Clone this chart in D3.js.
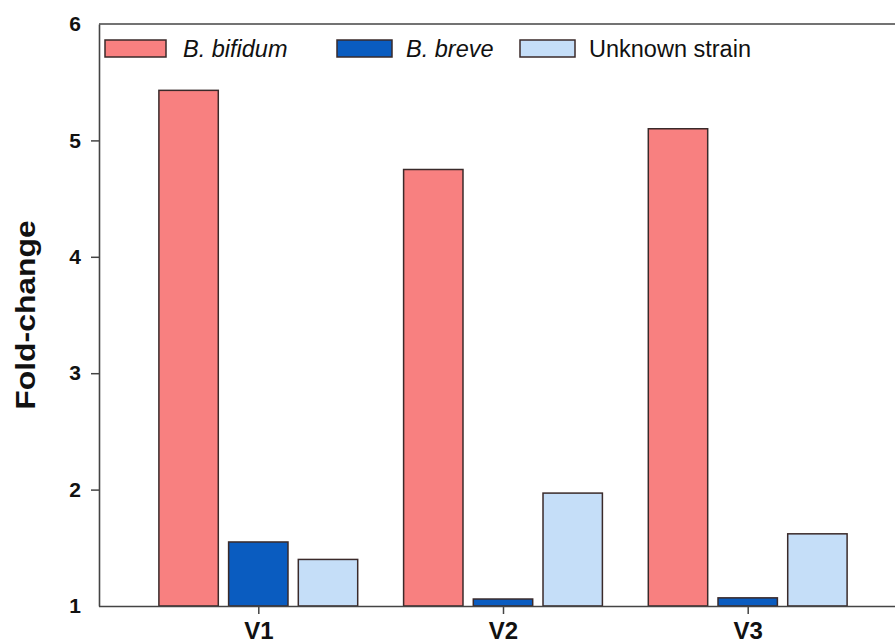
<!DOCTYPE html>
<html>
<head>
<meta charset="utf-8">
<script src="https://cdn.jsdelivr.net/npm/d3@7"></script>
<style>
html,body{margin:0;padding:0;background:#fff;}
svg{display:block;font-family:Arial,"Liberation Sans",sans-serif;}
</style>
</head>
<body>
<svg id="chart" width="895" height="643"></svg>
<script>
const categories = ["V1", "V2", "V3"];
const seriesNames = ["B. bifidum", "B. breve", "Unknown strain"];
const bifidum = [5.43, 4.75, 5.10];
const breve = [1.55, 1.06, 1.07];
const unknown = [1.40, 1.97, 1.62];
const yTicks = [1, 2, 3, 4, 5, 6];
const colors = ["#F88080", "#0A5CC0", "#C5DEF8"];
const italicFlags = [true, true, false];

const seriesValues = [bifidum, breve, unknown];
const svg = d3.select("#chart");
const plotLeft = 99, plotRight = 907, plotTop = 24, plotBottom = 606;

const y = d3.scaleLinear().domain([1, 6]).range([plotBottom, plotTop]);
const x = d3.scalePoint().domain(categories).range([plotLeft, plotRight]).padding(0.651);
const xs = d3.scaleBand().domain(seriesNames).range([-99.4, 99.4]).paddingInner(0.148).paddingOuter(0);

// bars
const g = svg.append("g");
categories.forEach((c, i) => {
  seriesNames.forEach((s, j) => {
    const v = seriesValues[j][i];
    g.append("rect")
      .attr("x", x(c) + xs(s))
      .attr("y", y(v))
      .attr("width", xs.bandwidth())
      .attr("height", y(1) - y(v))
      .attr("fill", colors[j])
      .attr("stroke", "#3a2a2a")
      .attr("stroke-width", 1.5);
  });
});

// top frame line
svg.append("line").attr("x1", plotLeft).attr("x2", 895).attr("y1", plotTop).attr("y2", plotTop)
  .attr("stroke", "#444").attr("stroke-width", 1.6);

// y axis
const yAxis = svg.append("g").attr("transform", `translate(${plotLeft},0)`)
  .call(d3.axisLeft(y).tickValues(yTicks).tickSize(8).tickSizeOuter(0).tickPadding(10).tickFormat(d3.format("d")));
yAxis.select(".domain").attr("stroke", "#444").attr("stroke-width", 1.6);
yAxis.selectAll(".tick line").attr("stroke", "#444").attr("stroke-width", 1.5);
yAxis.selectAll(".tick line").filter(d => d === 1 || d === 6).remove();
yAxis.selectAll("text").attr("font-size", 21).attr("font-weight", "bold").attr("fill", "#111")
  .attr("font-family", "Arial, 'Liberation Sans', sans-serif");

// x axis
const xAxis = svg.append("g").attr("transform", `translate(0,${plotBottom})`)
  .call(d3.axisBottom(x).tickSize(8).tickSizeOuter(0).tickPadding(8));
xAxis.select(".domain").attr("d", `M${plotLeft},0.5H895`).attr("stroke", "#444").attr("stroke-width", 1.6);
xAxis.selectAll(".tick line").attr("stroke", "#444").attr("stroke-width", 1.5);
xAxis.selectAll("text").attr("font-size", 24).attr("font-weight", "bold").attr("fill", "#111")
  .attr("font-family", "Arial, 'Liberation Sans', sans-serif");

// y label
svg.append("text")
  .attr("transform", "translate(35,315) rotate(-90) scale(1.18,1)")
  .attr("text-anchor", "middle")
  .attr("font-size", 27).attr("font-weight", "bold").attr("fill", "#111")
  .text("Fold-change");

// legend
const legendX = [105, 337, 520];
const legend = svg.append("g");
seriesNames.forEach((s, j) => {
  legend.append("rect")
    .attr("x", legendX[j]).attr("y", 40)
    .attr("width", j === 0 ? 61 : 55).attr("height", 17)
    .attr("fill", colors[j]).attr("stroke", "#3a2a2a").attr("stroke-width", 1.5);
  legend.append("text")
    .attr("x", legendX[j] + (j === 0 ? 78 : 69)).attr("y", 57)
    .attr("font-size", 23.5)
    .attr("font-style", italicFlags[j] ? "italic" : "normal")
    .attr("fill", "#111")
    .text(s);
});
</script>
</body>
</html>
